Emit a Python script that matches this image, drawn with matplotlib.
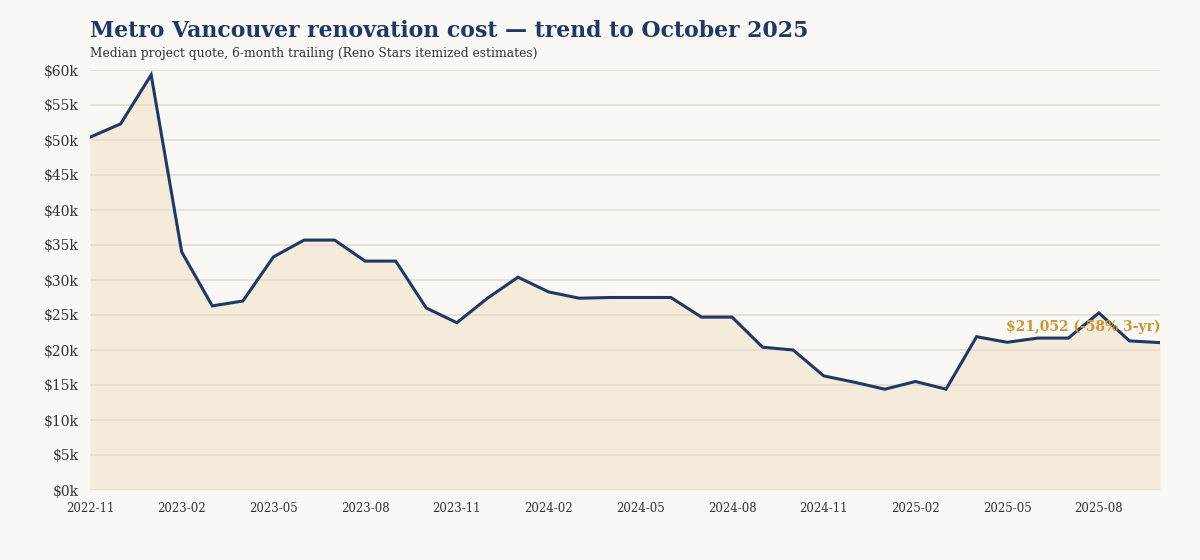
import matplotlib
matplotlib.use("Agg")
import matplotlib.pyplot as plt
import pandas as pd

# monthly median quote, 6-month trailing ($k), 2022-11 .. 2025-10
months = pd.period_range("2022-11", "2025-10", freq="M").strftime("%Y-%m").tolist()
median_k = [50.4, 52.3, 59.3, 34.0, 26.3, 27.0, 33.3, 35.7, 35.7, 32.7,
            32.7, 26.0, 23.9, 27.4, 30.4, 28.3, 27.4, 27.5, 27.5, 27.5,
            24.7, 24.7, 20.4, 20.0, 16.3, 15.4, 14.4, 15.5, 14.4, 21.9,
            21.1, 21.7, 21.7, 25.3, 21.3, 21.052]
y_ticks = list(range(0, 61, 5))
last_label = "$21,052 (-58% 3-yr)"

bg = "#faf8f4"
navy = "#1f3864"
gold = "#c9963a"

plt.rcParams['font.family'] = ['DejaVu Serif']

fig = plt.figure(figsize=(12, 5.6), dpi=100, facecolor=bg)
ax = fig.add_axes([0.075, 0.125, 0.8917, 0.75])
ax.set_facecolor(bg)

x = list(range(len(months)))
ax.fill_between(x, median_k, 0, color="#f3e7d3", alpha=0.75, lw=0, zorder=1)
ax.plot(x, median_k, color=navy, lw=2.2, solid_joinstyle="miter", zorder=3)

ax.set_xlim(0, len(months) - 1)
ax.set_ylim(0, 60)
ax.set_yticks(y_ticks)
ax.set_yticklabels([f"${v}k" for v in y_ticks], fontsize=10, color="#333333")
ax.set_xticks(x[::3])
ax.set_xticklabels(months[::3], fontsize=8.5, color="#333333")
ax.tick_params(length=0, pad=8)
ax.tick_params(axis="x", pad=9)
for s in ax.spines.values():
    s.set_visible(False)
ax.set_axisbelow(False)
ax.grid(axis="y", color="#e4dcd0", lw=1.2, zorder=2)

ax.text(x[-1], median_k[-1] + 2.3, last_label, ha="right", va="center",
        fontsize=10, fontweight="bold", color=gold, zorder=4)

fig.text(0.075, 0.945, "Metro Vancouver renovation cost \u2014 trend to October 2025",
         fontsize=15.8, fontweight="bold", color=navy, va="center")
fig.text(0.075, 0.905, "Median project quote, 6-month trailing (Reno Stars itemized estimates)",
         fontsize=8.8, color="#333333", va="center")

fig.savefig("out.png", dpi=100, facecolor=bg)
